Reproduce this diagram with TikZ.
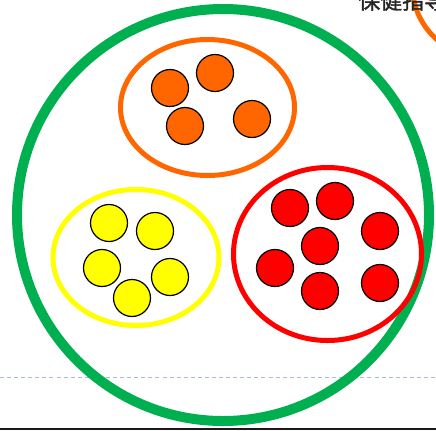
\documentclass[tikz,border=0pt]{standalone}
\usepackage{fontspec}
\newfontfamily\cjk[FakeBold=1.5]{Noto Sans CJK SC}
\usetikzlibrary{shapes.geometric}
\definecolor{ringgreen}{HTML}{00B050}
\definecolor{ringorange}{HTML}{FF6600}
\definecolor{ringyellow}{HTML}{FFFF00}
\definecolor{ringred}{HTML}{FF0000}
\definecolor{guidegray}{HTML}{A9BCD5}
\tikzset{
  ring/.style={ellipse, draw, line width=5pt*0.75, inner sep=0pt},
  dot/.style={circle, draw=black, line width=0.9pt, inner sep=0pt, minimum size=37pt*0.75},
}
\begin{document}
\begin{tikzpicture}[x=0.75pt,y=-0.75pt]
\useasboundingbox (0,0) rectangle (436,430);
\clip (0,0) rectangle (436,430);
% dashed guide
\coordinate (gl) at (0,377);
\coordinate (gr) at (436,377);
\draw[guidegray, line width=0.75pt, dash pattern=on 3pt off 2.3pt] (gl) -- (gr);
% outer green ring
\node[circle, draw=ringgreen, line width=10pt*0.75, inner sep=0pt, minimum size=412pt*0.75] (big) at (223,215) {};
% orange arc top right (partial, outside)
\node[circle, draw=ringorange, line width=5pt*0.75, inner sep=0pt, minimum size=145.6pt*0.75] (other) at (485,-15) {};
\node[anchor=base west, inner sep=0pt, text=black!85] (title) at (358,9) {\cjk\fontsize{16.5pt}{16.5pt}\selectfont 保健指导};
% orange group
\node[ring, draw=ringorange, minimum width=174pt*0.75, minimum height=136pt*0.75] (og) at (207.5,107.5) {};
\node[dot, fill=ringorange] (o1) at (170,88) {};
\node[dot, fill=ringorange] (o2) at (215,73) {};
\node[dot, fill=ringorange] (o3) at (185,126) {};
\node[dot, fill=ringorange] (o4) at (252,119) {};
% yellow group
\node[ring, draw=ringyellow, minimum width=166pt*0.75, minimum height=136pt*0.75] (yg) at (136,257.5) {};
\node[dot, fill=ringyellow] (y1) at (109,223) {};
\node[dot, fill=ringyellow] (y2) at (155,231) {};
\node[dot, fill=ringyellow] (y3) at (102,268) {};
\node[dot, fill=ringyellow] (y4) at (170,277) {};
\node[dot, fill=ringyellow] (y5) at (132,298) {};
% red group
\node[ring, draw=ringred, minimum width=188pt*0.75, minimum height=173pt*0.75] (rg) at (327.5,254) {};
\node[dot, fill=ringred] (r1) at (290,208) {};
\node[dot, fill=ringred] (r2) at (335,201) {};
\node[dot, fill=ringred] (r3) at (380,231) {};
\node[dot, fill=ringred] (r4) at (320,246) {};
\node[dot, fill=ringred] (r5) at (275,268) {};
\node[dot, fill=ringred] (r6) at (320,291) {};
\node[dot, fill=ringred] (r7) at (380,283) {};
% bottom rule
\coordinate (bl) at (0,428.8);
\coordinate (br) at (436,428.8);
\draw[black!90, line width=2.6pt*0.75] (bl) -- (br);
\end{tikzpicture}
\end{document}
